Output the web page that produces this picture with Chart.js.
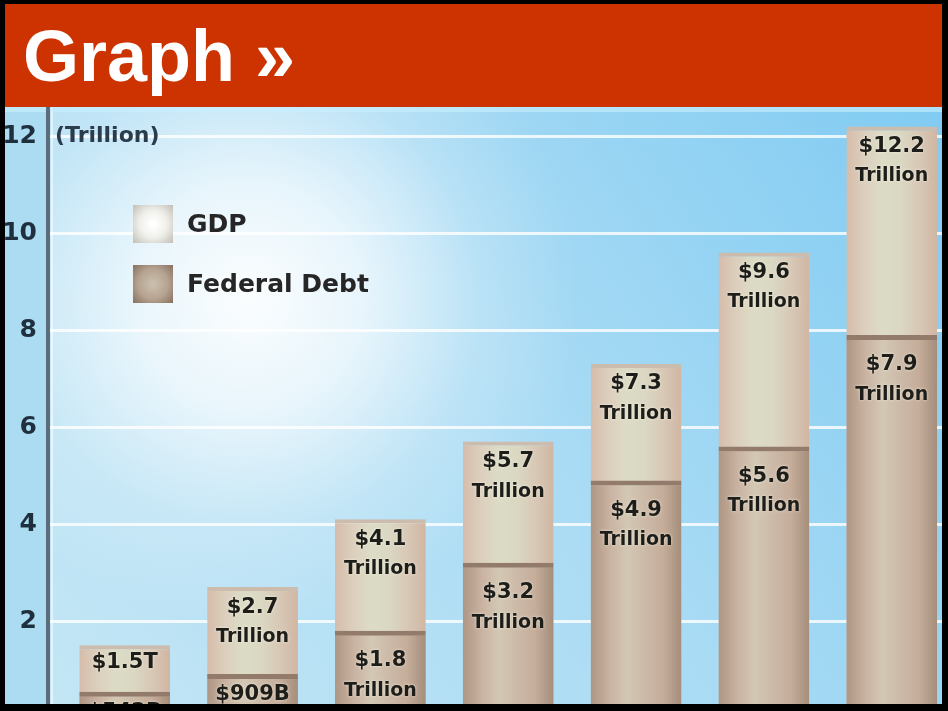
<!DOCTYPE html>
<html>
<head>
<meta charset="utf-8">
<script src="https://cdn.jsdelivr.net/npm/chart.js@4.4.1/dist/chart.umd.min.js"></script>
<style>
html,body{margin:0;padding:0;width:948px;height:711px;overflow:hidden;background:#000;position:relative}
#title{position:absolute;left:0;top:4px;width:948px;height:103px;background:#cc3300;overflow:hidden}
#title span{position:absolute;left:23px;top:17px;font:bold 72px "Liberation Sans",Arial,sans-serif;line-height:70px;color:#fff;white-space:pre}
#wrap{position:absolute;left:0;top:107px;width:948px;height:623px}
.frame{position:absolute;background:#000;z-index:5}
</style>
</head>
<body>
<div id="title"><span id="titleText"></span></div>
<div id="wrap"><canvas id="c"></canvas></div>
<div class="frame" style="left:0;top:0;width:948px;height:4px"></div>
<div class="frame" style="left:0;top:0;width:5px;height:711px"></div>
<div class="frame" style="left:942px;top:0;width:6px;height:711px"></div>
<div class="frame" style="left:0;top:704px;width:948px;height:7px"></div>
<script>
// ---- data ----
const titleText = 'Graph \u00bb';
const categories = ['1975', '1980', '1985', '1990', '1995', '2000', '2005'];
const seriesNames = ['GDP', 'Federal Debt'];
const gdpValues = [1.5, 2.7, 4.1, 5.7, 7.3, 9.6, 12.2];
const debtValues = [0.542, 0.909, 1.8, 3.2, 4.9, 5.6, 7.9];
const gdpText = ['$1.5T', '$2.7|Trillion', '$4.1|Trillion', '$5.7|Trillion', '$7.3|Trillion', '$9.6|Trillion', '$12.2|Trillion'];
const debtText = ['$542B', '$909B', '$1.8|Trillion', '$3.2|Trillion', '$4.9|Trillion', '$5.6|Trillion', '$7.9|Trillion'];
const yTicks = [2, 4, 6, 8, 10, 12];
const unitLabel = '(Trillion)';

document.getElementById('titleText').textContent = titleText;

const BAR_PCT = 0.71;
const gdpStops = ['#d6bcaa', '#dccfbd', '#dcdcc6', '#dad7c2', '#d8c8b6', '#d0b6a3'];
const debtStops = ['#ae9685', '#c9b1a0', '#d3c8b4', '#ccb9a7', '#c5ad9a', '#a58d7c'];

function barGradient(stops, flat) {
  return (ctx) => {
    const chart = ctx.chart;
    const xs = chart.scales && chart.scales.x;
    if (!xs || ctx.type !== 'data') return flat;
    const cx = xs.getPixelForValue(ctx.dataIndex);
    const half = Math.abs(xs.getPixelForValue(1) - xs.getPixelForValue(0)) * BAR_PCT / 2;
    if (!isFinite(cx) || !isFinite(half) || half <= 0) return flat;
    const g = chart.ctx.createLinearGradient(cx - half, 0, cx + half, 0);
    stops.forEach((c, i) => g.addColorStop(i / (stops.length - 1), c));
    return g;
  };
}

const backgroundPlugin = {
  id: 'bg',
  beforeDraw(chart) {
    const { ctx, width, height, chartArea } = chart;
    ctx.save();
    const lg = ctx.createLinearGradient(width, 0, 0, height);
    lg.addColorStop(0, '#80cbf2');
    lg.addColorStop(0.45, '#a9dbf4');
    lg.addColorStop(1, '#c6e7f5');
    ctx.fillStyle = lg;
    ctx.fillRect(0, 0, width, height);
    const rg = ctx.createRadialGradient(250, 190, 0, 250, 190, 330);
    rg.addColorStop(0, 'rgba(255,255,255,0.95)');
    rg.addColorStop(0.35, 'rgba(255,255,255,0.7)');
    rg.addColorStop(0.7, 'rgba(255,255,255,0.2)');
    rg.addColorStop(1, 'rgba(255,255,255,0)');
    ctx.fillStyle = rg;
    ctx.fillRect(chartArea.left, 0, width, height);
    ctx.fillStyle = '#acdcf2';
    ctx.fillRect(0, 0, chartArea.left - 2, height);
    ctx.fillStyle = 'rgba(255,255,255,0.55)';
    ctx.fillRect(chartArea.left + 3, 0, 2, height);
    ctx.fillStyle = 'rgba(200,240,255,0.6)';
    ctx.fillRect(0, 0, width, 5);
    ctx.restore();
  }
};

const overlayPlugin = {
  id: 'overlay',
  afterDatasetsDraw(chart) {
    const { ctx, chartArea } = chart;
    const ys = chart.scales.y;
    ctx.save();
    const texts = [gdpText, debtText];
    chart.data.datasets.forEach((ds, di) => {
      const meta = chart.getDatasetMeta(di);
      meta.data.forEach((el, i) => {
        const lines = texts[di][i].split('|');
        const first = lines.length === 1 ? (di === 0 ? 17 : 21) : (di === 0 ? 20 : 30);
        lines.forEach((ln, k) => {
          ctx.font = (k === 0 ? 'bold 21px ' : 'bold 19px ') + '"DejaVu Sans", sans-serif';
          ctx.textAlign = 'center';
          ctx.textBaseline = 'middle';
          ctx.shadowColor = 'rgba(255,255,240,0.7)';
          ctx.shadowBlur = 3;
          ctx.fillStyle = '#1d1d1a';
          ctx.fillText(ln, el.x, el.y + first + k * 30);
        });
      });
    });
    ctx.shadowBlur = 0;
    ctx.font = 'bold 22px "DejaVu Sans", sans-serif';
    ctx.fillStyle = '#2b3c4c';
    ctx.textAlign = 'left';
    ctx.textBaseline = 'middle';
    ctx.fillText(unitLabel, chartArea.left + 7, ys.getPixelForValue(yTicks[yTicks.length - 1]));
    const lx = chartArea.left + 85, ly = chartArea.top + 98;
    chart.data.datasets.forEach((ds, di) => {
      const by = ly + di * 60;
      const rg = ctx.createRadialGradient(lx + 20, by + 19, 2, lx + 20, by + 19, 26);
      if (di === 0) {
        rg.addColorStop(0, '#ffffff');
        rg.addColorStop(0.5, '#efefea');
        rg.addColorStop(1, '#c6c3ba');
      } else {
        rg.addColorStop(0, '#c9bdab');
        rg.addColorStop(0.55, '#b6a290');
        rg.addColorStop(1, '#8c7564');
      }
      ctx.fillStyle = rg;
      ctx.fillRect(lx, by, 40, 38);
      ctx.font = 'bold 25px "DejaVu Sans", sans-serif';
      ctx.fillStyle = '#262626';
      ctx.textAlign = 'left';
      ctx.textBaseline = 'middle';
      ctx.fillText(ds.label, lx + 54, by + 20);
    });
    ctx.restore();
  }
};

new Chart(document.getElementById('c'), {
  type: 'bar',
  data: {
    labels: categories,
    datasets: [
      {
        label: seriesNames[0],
        order: 1,
        data: categories.map((c, i) => ({ x: i, y: gdpValues[i] })),
        backgroundColor: barGradient(gdpStops, '#dcd6c2'),
        borderColor: '#cbbcad',
        borderWidth: { top: 4, left: 0, right: 0, bottom: 0 },
        borderSkipped: 'start',
        grouped: false,
        barPercentage: BAR_PCT,
        categoryPercentage: 1
      },
      {
        label: seriesNames[1],
        order: 0,
        data: categories.map((c, i) => ({ x: i, y: debtValues[i] })),
        backgroundColor: barGradient(debtStops, '#c6b09e'),
        borderColor: '#937b6b',
        borderWidth: { top: 5, left: 0, right: 0, bottom: 0 },
        borderSkipped: 'start',
        grouped: false,
        barPercentage: BAR_PCT,
        categoryPercentage: 1
      }
    ]
  },
  options: {
    responsive: true,
    maintainAspectRatio: false,
    animation: false,
    layout: { padding: { top: 0, bottom: 12, left: 0, right: 0 } },
    plugins: { legend: { display: false }, tooltip: { enabled: false } },
    scales: {
      x: {
        type: 'linear',
        min: -0.6,
        max: 6.44,
        offset: false,
        display: false,
        afterBuildTicks(scale) { scale.ticks = categories.map((c, i) => ({ value: i })); }
      },
      y: {
        min: 0,
        max: 12.6,
        afterFit(scale) { scale.width = 48; scale.paddingTop = 0; scale.paddingBottom = 0; },
        afterBuildTicks(scale) { scale.ticks = yTicks.map(v => ({ value: v })); },
        ticks: {
          padding: 11,
          color: '#1f2f3e',
          font: { family: '"DejaVu Sans", sans-serif', size: 25, weight: 'bold' },
          callback: (v) => String(v)
        },
        grid: { color: 'rgba(255,255,255,0.8)', lineWidth: 3, drawTicks: false, tickLength: 0 },
        border: { display: true, color: '#5b6d7b', width: 4 }
      }
    }
  },
  plugins: [backgroundPlugin, overlayPlugin]
});
</script>
</body>
</html>
